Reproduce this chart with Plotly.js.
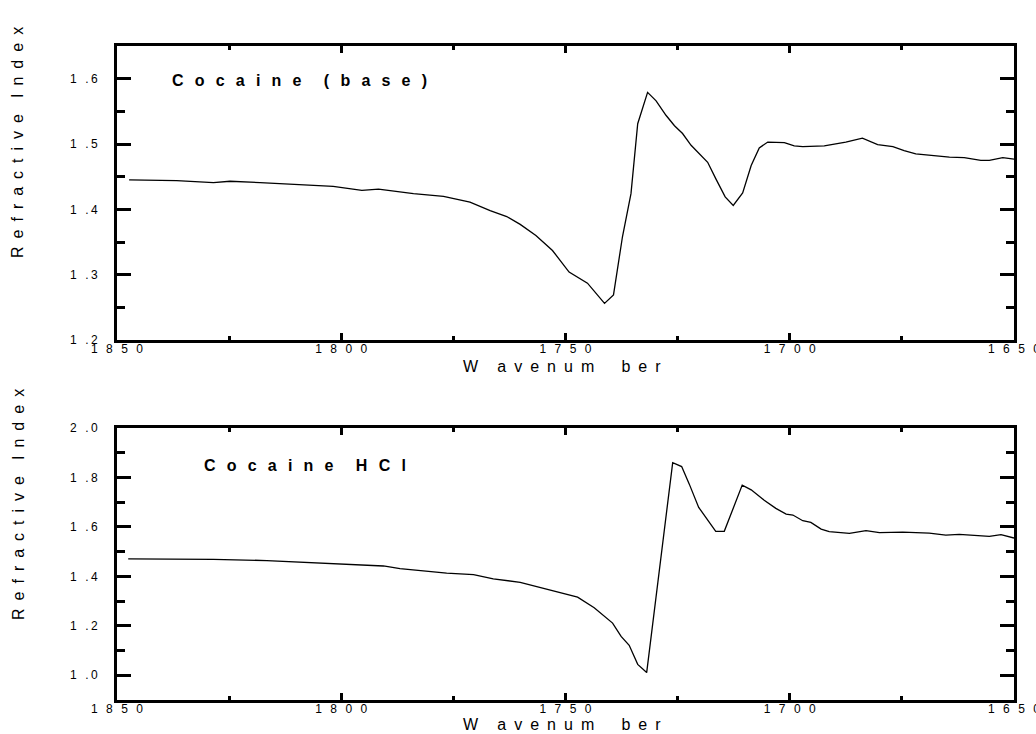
<!DOCTYPE html>
<html>
<head>
<meta charset="utf-8">
<script src="https://cdn.plot.ly/plotly-3.0.1.min.js"></script>
<style>
  html, body { margin: 0; padding: 0; background: #fff; }
  #chart { width: 1036px; height: 734px; }
</style>
</head>
<body>
<div id="chart"></div>
<script>
// ---- Data ----
var baseWavenumber = [1847.3, 1836.7, 1828.5, 1824.8, 1818.1, 1809.2, 1801.8, 1795.4, 1791.7, 1783.9,
  1777.2, 1771.3, 1766.8, 1763.1, 1760.1, 1756.6, 1752.9, 1749.2, 1745.1, 1741.3,
  1739.3, 1737.3, 1735.4, 1733.9, 1731.7, 1729.8, 1727.6, 1725.7, 1723.9, 1722.0,
  1720.2, 1718.3, 1716.5, 1714.4, 1712.6, 1710.5, 1708.6, 1706.8, 1704.9, 1701.2,
  1699.0, 1697.1, 1692.3, 1687.5, 1683.8, 1680.4, 1677.0, 1674.5, 1671.9, 1668.1,
  1664.4, 1661.1, 1657.4, 1655.5, 1652.5, 1650.0];
var baseIndex = [1.445, 1.444, 1.441, 1.443, 1.441, 1.438, 1.435, 1.429, 1.431, 1.424,
  1.420, 1.411, 1.398, 1.389, 1.377, 1.360, 1.337, 1.304, 1.287, 1.256,
  1.269, 1.358, 1.424, 1.531, 1.579, 1.566, 1.544, 1.528, 1.516, 1.498,
  1.485, 1.472, 1.447, 1.419, 1.406, 1.425, 1.467, 1.494, 1.503, 1.502,
  1.497, 1.496, 1.497, 1.503, 1.509, 1.499, 1.496, 1.490, 1.485, 1.482,
  1.480, 1.479, 1.475, 1.475, 1.479, 1.477];

var hclWavenumber = [1847.5, 1828.5, 1816.6, 1801.8, 1790.6, 1786.9, 1776.5, 1770.5, 1766.1, 1760.1,
  1752.9, 1747.3, 1743.6, 1739.5, 1737.6, 1735.8, 1733.9, 1731.9, 1726.1, 1724.1,
  1722.4, 1720.3, 1716.5, 1714.6, 1710.6, 1708.6, 1705.7, 1703.1, 1700.8, 1699.3,
  1697.1, 1695.3, 1693.0, 1691.2, 1686.7, 1683.0, 1680.0, 1674.8, 1668.9, 1665.2,
  1662.2, 1657.0, 1655.5, 1652.9, 1650.0];
var hclIndex = [1.471, 1.469, 1.464, 1.453, 1.442, 1.431, 1.413, 1.407, 1.390, 1.376,
  1.343, 1.316, 1.273, 1.211, 1.157, 1.121, 1.044, 1.011, 1.860, 1.844,
  1.773, 1.679, 1.582, 1.582, 1.769, 1.750, 1.708, 1.675, 1.652, 1.648,
  1.625, 1.618, 1.591, 1.581, 1.574, 1.585, 1.577, 1.579, 1.575, 1.567,
  1.570, 1.562, 1.562, 1.569, 1.555];

var xTickValues = [1850, 1800, 1750, 1700, 1650];
var xTickLabels = ["1850", "1800", "1750", "1700", "1650"];
var baseYTickValues = [1.2, 1.3, 1.4, 1.5, 1.6];
var baseYTickLabels = ["1.2", "1.3", "1.4", "1.5", "1.6"];
var hclYTickValues = [1.0, 1.2, 1.4, 1.6, 1.8, 2.0];
var hclYTickLabels = ["1.0", "1.2", "1.4", "1.6", "1.8", "2.0"];

var panelLabels = ["Cocaine (base)", "Cocaine HCl"];
var xTitle = "W avenum ber";
var yTitle = "Refractive Index";

// ---- helpers for the wide letter spacing of the original ----
var EN = "\u2002", THIN = "\u2009", EM = "\u2003";
function spaced(str, sep, wordSep) {
  return str.split(" ").map(function (w) { return w.split("").join(sep); }).join(wordSep);
}
function numLabel(s) { return s.split("").join(EN + THIN); }
function yNumLabel(s) { return s.replace(".", EN + THIN + "." + THIN); }

var FONT = "Liberation Sans, Arial, sans-serif";

var traces = [
  { x: baseWavenumber, y: baseIndex, xaxis: "x", yaxis: "y", type: "scatter", mode: "lines",
    line: { color: "#000", width: 1.3 }, hoverinfo: "skip" },
  { x: hclWavenumber, y: hclIndex, xaxis: "x2", yaxis: "y2", type: "scatter", mode: "lines",
    line: { color: "#000", width: 1.3 }, hoverinfo: "skip" }
];

function xAxis(domainAnchor) {
  return {
    anchor: domainAnchor, range: [1850, 1650], autorange: false,
    tickmode: "array", tickvals: xTickValues, ticktext: xTickLabels.map(numLabel),
    ticks: "inside", ticklen: 7, tickwidth: 3, tickcolor: "#000",
    minor: { tickmode: "linear", tick0: 1850, dtick: 25, ticks: "inside", ticklen: 4, tickwidth: 3, tickcolor: "#000" },
    showline: true, linewidth: 3, linecolor: "#000", mirror: "allticks",
    showgrid: false, zeroline: false, ticklabelstandoff: -4, ticklabeloverflow: "allow",
    tickfont: { family: FONT, size: 12, color: "#000" }
  };
}
function yAxis(domain, anchor, range, vals, labels, minorDtick) {
  return {
    domain: domain, anchor: anchor, range: range, autorange: false,
    tickmode: "array", tickvals: vals, ticktext: labels.map(yNumLabel),
    ticks: "inside", ticklen: 14, tickwidth: 3, tickcolor: "#000",
    minor: { tickmode: "linear", tick0: range[0], dtick: minorDtick, ticks: "inside", ticklen: 8, tickwidth: 3, tickcolor: "#000" },
    showline: true, linewidth: 3, linecolor: "#000", mirror: "allticks",
    showgrid: false, zeroline: false, ticklabelstandoff: 14, ticklabeloverflow: "allow",
    tickfont: { family: FONT, size: 12, color: "#000" }
  };
}

var PL = 117, PR = 1014, PT = 46, PB = 700;
function px2paperX(px) { return (px - PL) / (PR - PL); }
function px2paperY(py) { return (PB - py) / (PB - PT); }

var xTitleText = "W" + EM + THIN + spaced("avenum", EN, EN) + EM + EN + THIN + spaced("ber", EN, EN);
var yTitleText = spaced(yTitle, EN, EM);
function panelText(s) { return "<b>" + spaced(s, EN + THIN, EM + THIN + THIN) + "</b>"; }

var layout = {
  width: 1036, height: 734,
  margin: { l: PL, r: 1036 - PR, t: PT, b: 734 - PB, pad: 0 },
  paper_bgcolor: "#fff", plot_bgcolor: "#fff",
  showlegend: false,
  xaxis: xAxis("y"),
  yaxis: yAxis([px2paperY(340), 1], "x", [1.2, 1.65], baseYTickValues, baseYTickLabels, 0.05),
  xaxis2: xAxis("y2"),
  yaxis2: yAxis([0, px2paperY(428)], "x2", [0.9, 2.0], hclYTickValues, hclYTickLabels, 0.1),
  annotations: [
    { xref: "paper", yref: "paper", x: px2paperX(170), y: px2paperY(80), xanchor: "left", yanchor: "middle",
      text: panelText(panelLabels[0]), showarrow: false,
      font: { family: FONT, size: 16, color: "#000" } },
    { xref: "paper", yref: "paper", x: px2paperX(202), y: px2paperY(466), xanchor: "left", yanchor: "middle",
      text: panelText(panelLabels[1]), showarrow: false,
      font: { family: FONT, size: 16, color: "#000" } },
    { xref: "paper", yref: "paper", x: px2paperX(562), y: px2paperY(366), xanchor: "center", yanchor: "middle",
      text: xTitleText, showarrow: false,
      font: { family: FONT, size: 16, color: "#000" } },
    { xref: "paper", yref: "paper", x: px2paperX(562), y: px2paperY(724), xanchor: "center", yanchor: "middle",
      text: xTitleText, showarrow: false,
      font: { family: FONT, size: 16, color: "#000" } },
    { xref: "paper", yref: "paper", x: px2paperX(18), y: px2paperY(143), xanchor: "center", yanchor: "middle",
      textangle: -90, text: yTitleText, showarrow: false,
      font: { family: FONT, size: 16, color: "#000" } },
    { xref: "paper", yref: "paper", x: px2paperX(18), y: px2paperY(505), xanchor: "center", yanchor: "middle",
      textangle: -90, text: yTitleText, showarrow: false,
      font: { family: FONT, size: 16, color: "#000" } }
  ]
};

Plotly.newPlot("chart", traces, layout, { staticPlot: true, displayModeBar: false });
</script>
</body>
</html>
